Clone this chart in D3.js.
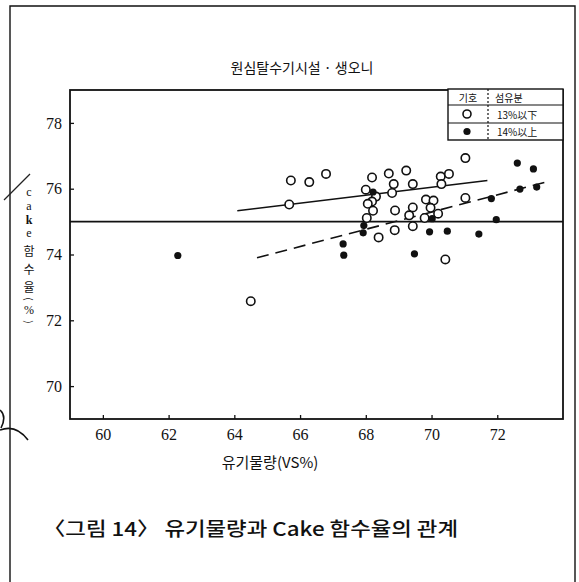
<!DOCTYPE html>
<html>
<head>
<meta charset="utf-8">
<script src="https://cdn.jsdelivr.net/npm/d3@7/dist/d3.min.js"></script>
<style>
  html, body { margin: 0; padding: 0; background: #fff; }
  svg { display: block; }
</style>
</head>
<body>
<script>
// 섬유분 13% 이하 시료 (open circles)
const openX = [65.72, 66.28, 66.79, 65.67, 68.19, 68.70, 69.23, 71.03, 68.85, 69.43,
               70.28, 70.53, 70.30, 68.00, 68.80, 68.31, 68.19, 68.06, 68.22, 68.03,
               68.89, 69.43, 69.32, 69.83, 70.06, 69.97, 70.20, 69.79, 71.03, 68.88,
               69.43, 68.39, 70.42, 64.50];
const openY = [76.25, 76.20, 76.45, 75.52, 76.34, 76.46, 76.55, 76.93, 76.14, 76.14,
               76.37, 76.45, 76.14, 75.97, 75.87, 75.76, 75.61, 75.54, 75.33, 75.11,
               75.34, 75.43, 75.19, 75.67, 75.64, 75.42, 75.24, 75.11, 75.72, 74.74,
               74.86, 74.52, 73.85, 72.58];

// 섬유분 14% 이상 시료 (filled dots)
const filledX = [62.28, 68.22, 67.94, 67.92, 67.31, 67.33, 69.48, 69.94, 70.48, 71.44,
                 70.02, 71.97, 71.82, 72.61, 72.69, 73.10, 73.20];
const filledY = [73.97, 75.90, 74.88, 74.66, 74.32, 73.98, 74.02, 74.69, 74.71, 74.62,
                 75.09, 75.06, 75.70, 76.78, 75.99, 76.60, 76.05];

// Fitted trend lines: [x0, x1], [y0, y1]
const fitOpenX = [64.09, 71.70];
const fitOpenY = [75.33, 76.25];
const fitFilledX = [64.69, 73.63];
const fitFilledY = [73.90, 76.24];
// Reference level across the plot
const refLevel = 75;

const xTicks = [60, 62, 64, 66, 68, 70, 72];
const yTicks = [70, 72, 74, 76, 78];

const titleText = "원심탈수기시설 · 생오니";
const xTitle = "유기물량(VS%)";
const yTitleChars = ["c", "a", "k", "e", "함", "수", "율", "(", "%", ")"];
const captionText = "〈그림 14〉 유기물량과 Cake 함수율의 관계";
const legendHead = ["기호", "섬유분"];
const legendLabels = ["13%以下", "14%以上"];

const W = 579, H = 582;
const svg = d3.select("body").append("svg").attr("width", W).attr("height", H);

const kr = "'Noto Sans CJK KR', 'Noto Sans', sans-serif";
const serif = "'Liberation Serif', 'DejaVu Serif', serif";

// Page frame
svg.append("path")
  .attr("d", "M10,582 L10,6 L575,6 L575,582")
  .attr("fill", "none").attr("stroke", "#111").attr("stroke-width", 1.4);

// Small marks at the left margin
svg.append("path").attr("d", "M4,200 L30,174")
  .attr("stroke", "#222").attr("stroke-width", 1.2).attr("fill", "none");
svg.append("path").attr("d", "M0,430 Q16,424 28,440")
  .attr("stroke", "#111").attr("stroke-width", 1.6).attr("fill", "none");
svg.append("path").attr("d", "M0,410 Q7,416 1,428")
  .attr("stroke", "#111").attr("stroke-width", 1.6).attr("fill", "none");

const L = 70, R = 563, T = 90, B = 419;
const x = d3.scaleLinear().domain([59, 74]).range([L, R]);
const y = d3.scaleLinear().domain([69, 79]).range([B, T]);

// Title
svg.append("text").attr("x", 302).attr("y", 73).attr("text-anchor", "middle")
  .attr("font-family", kr).attr("font-size", 14).attr("fill", "#111").text(titleText);

// Plot frame
svg.append("rect").attr("x", L).attr("y", T).attr("width", R - L).attr("height", B - T)
  .attr("fill", "none").attr("stroke", "#111").attr("stroke-width", 1.8);

// Axes
const xAxis = d3.axisBottom(x).tickValues(xTicks).tickSize(-4).tickPadding(10).tickFormat(d3.format("d"));
const gx = svg.append("g").attr("transform", `translate(0,${B})`).call(xAxis);
gx.select(".domain").remove();
gx.selectAll("line").attr("stroke", "#111").attr("stroke-width", 1.3);
gx.selectAll("text").attr("font-family", serif).attr("font-size", 16).attr("fill", "#111");

const yAxis = d3.axisLeft(y).tickValues(yTicks).tickSize(-4).tickPadding(8).tickFormat(d3.format("d"));
const gy = svg.append("g").attr("transform", `translate(${L},0)`).call(yAxis);
gy.select(".domain").remove();
gy.selectAll("line").attr("stroke", "#111").attr("stroke-width", 1.3);
gy.selectAll("text").attr("font-family", serif).attr("font-size", 16).attr("fill", "#111");

// Axis titles
svg.append("text").attr("x", 270).attr("y", 468).attr("text-anchor", "middle")
  .attr("font-family", kr).attr("font-size", 15).attr("fill", "#111").text(xTitle);

// Vertical y title, one character per line
const yCharPos = [192, 206, 220, 233, 250, 268, 286, 299, 310, 322];
yTitleChars.forEach((c, i) => {
  const isLatin = /[a-z]/.test(c);
  const isParen = c === "(" || c === ")";
  const t = svg.append("text")
    .attr("text-anchor", "middle").attr("dominant-baseline", "central")
    .attr("font-family", isLatin || c === "%" ? serif : kr)
    .attr("font-size", isLatin ? 12 : (c === "%" ? 12 : 12))
    .attr("font-weight", c === "k" ? "bold" : "normal")
    .attr("fill", "#111").text(c);
  if (isParen) {
    t.attr("transform", `translate(29,${yCharPos[i]}) rotate(90)`).attr("x", 0).attr("y", 0)
      .attr("font-size", 10);
  } else {
    t.attr("x", 29).attr("y", yCharPos[i]);
  }
});

// Reference level and fitted lines
svg.append("line").attr("x1", L).attr("x2", R)
  .attr("y1", y(refLevel)).attr("y2", y(refLevel))
  .attr("stroke", "#111").attr("stroke-width", 1.6);

svg.append("line")
  .attr("x1", x(fitOpenX[0])).attr("y1", y(fitOpenY[0]))
  .attr("x2", x(fitOpenX[1])).attr("y2", y(fitOpenY[1]))
  .attr("stroke", "#111").attr("stroke-width", 1.6);

svg.append("line")
  .attr("x1", x(fitFilledX[0])).attr("y1", y(fitFilledY[0]))
  .attr("x2", x(fitFilledX[1])).attr("y2", y(fitFilledY[1]))
  .attr("stroke", "#111").attr("stroke-width", 1.6).attr("stroke-dasharray", "12,7");

// Points
svg.append("g").selectAll("circle").data(openX.map((v, i) => [v, openY[i]])).join("circle")
  .attr("cx", d => x(d[0])).attr("cy", d => y(d[1])).attr("r", 4.2)
  .attr("fill", "#fff").attr("stroke", "#111").attr("stroke-width", 1.6);

svg.append("g").selectAll("circle").data(filledX.map((v, i) => [v, filledY[i]])).join("circle")
  .attr("cx", d => x(d[0])).attr("cy", d => y(d[1])).attr("r", 3.6)
  .attr("fill", "#111");

// Legend
const lg = svg.append("g");
const lx0 = 448, lx1 = 488, lx2 = 563;
const ly = [89, 105, 123, 140];
lg.append("rect").attr("x", lx0).attr("y", ly[0]).attr("width", lx2 - lx0).attr("height", ly[3] - ly[0])
  .attr("fill", "#fff").attr("stroke", "#111").attr("stroke-width", 1.4);
[ly[1], ly[2]].forEach(v => lg.append("line").attr("x1", lx0).attr("x2", lx2)
  .attr("y1", v).attr("y2", v).attr("stroke", "#111").attr("stroke-width", 1.2));
lg.append("line").attr("x1", lx1).attr("x2", lx1).attr("y1", ly[0]).attr("y2", ly[3])
  .attr("stroke", "#111").attr("stroke-width", 1.2).attr("stroke-dasharray", "2,2");
lg.append("text").attr("x", (lx0 + lx1) / 2).attr("y", (ly[0] + ly[1]) / 2)
  .attr("text-anchor", "middle").attr("dominant-baseline", "central")
  .attr("font-family", kr).attr("font-size", 10).attr("fill", "#111").text(legendHead[0]);
lg.append("text").attr("x", 495).attr("y", (ly[0] + ly[1]) / 2)
  .attr("dominant-baseline", "central")
  .attr("font-family", kr).attr("font-size", 10).attr("fill", "#111").text(legendHead[1]);
lg.append("circle").attr("cx", 467).attr("cy", (ly[1] + ly[2]) / 2).attr("r", 4)
  .attr("fill", "#fff").attr("stroke", "#111").attr("stroke-width", 1.6);
lg.append("circle").attr("cx", 467).attr("cy", (ly[2] + ly[3]) / 2).attr("r", 3.6)
  .attr("fill", "#111");
legendLabels.forEach((s, i) => {
  lg.append("text").attr("x", 497).attr("y", (ly[i + 1] + ly[i + 2]) / 2)
    .attr("dominant-baseline", "central")
    .attr("font-family", kr).attr("font-size", 10).attr("fill", "#111").text(s);
});

// Caption
svg.append("text").attr("x", 43).attr("y", 536)
  .attr("font-family", kr).attr("font-size", 19).attr("font-weight", 500).attr("fill", "#111")
  .attr("textLength", 415).attr("lengthAdjust", "spacingAndGlyphs")
  .text(captionText);
</script>
</body>
</html>
